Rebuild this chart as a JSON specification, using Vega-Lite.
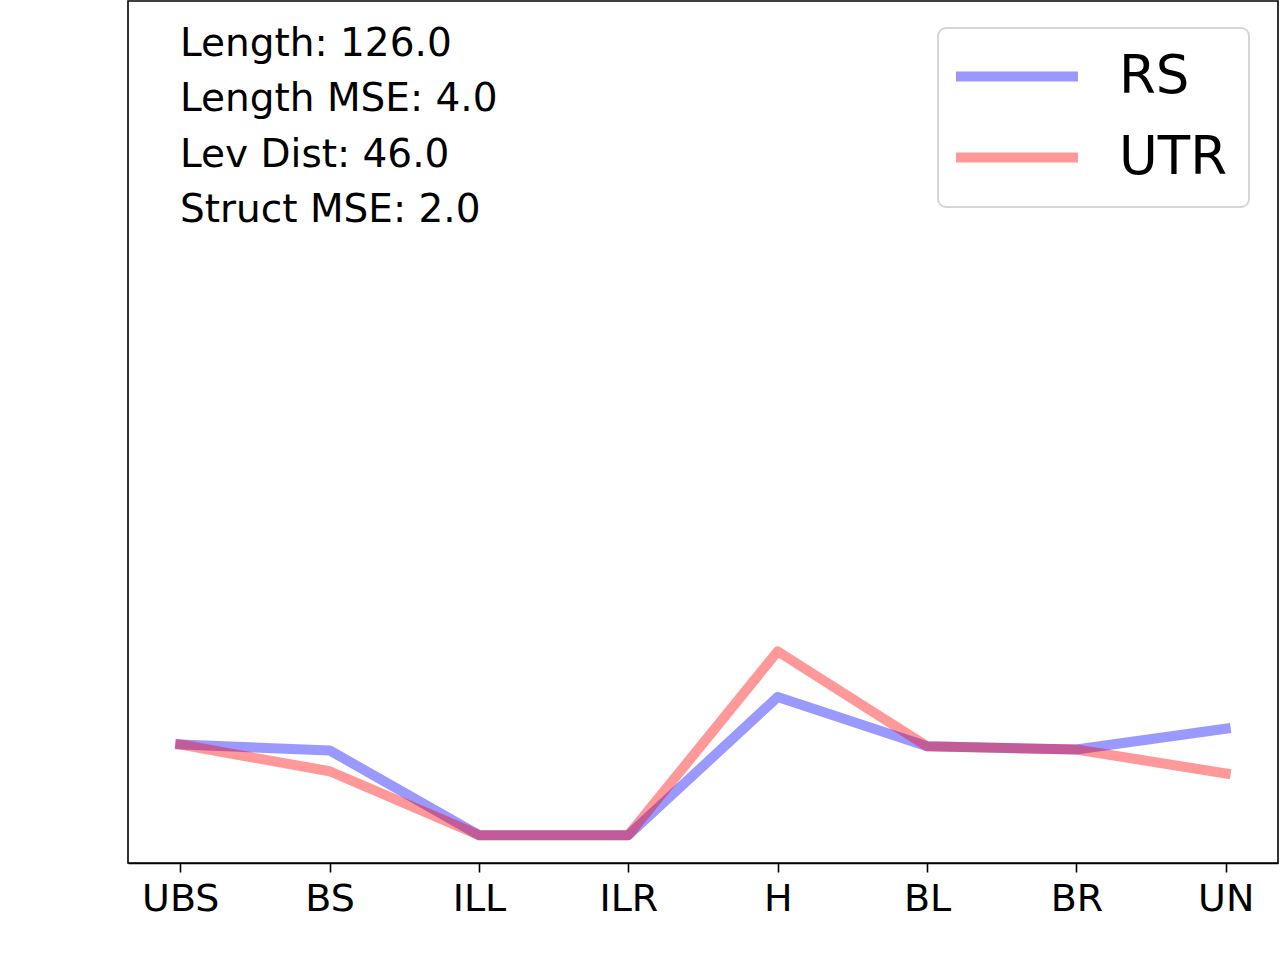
{
  "$schema": "https://vega.github.io/schema/vega-lite/v6.json",
  "width": 1150,
  "height": 862,
  "autosize": {"type": "none"},
  "padding": {"left": 128, "top": 1, "right": 2, "bottom": 97},
  "background": "white",
  "config": {
    "view": {"stroke": "black", "strokeWidth": 1.6},
    "font": "DejaVu Sans",
    "legend": {"strokeWidth": 2}
  },
  "title": {
    "text": ["Length: 126.0", "Length MSE: 4.0", "Lev Dist: 46.0", "Struct MSE: 2.0"],
    "orient": "top",
    "anchor": "start",
    "frame": "group",
    "baseline": "top",
    "offset": 0,
    "dx": 52,
    "dy": 229,
    "fontSize": 39,
    "lineHeight": 55.5,
    "fontWeight": "normal",
    "font": "DejaVu Sans",
    "color": "black"
  },
  "data": {
    "values": [
      {"series": "RS", "cat": "UBS", "v": 3.26},
      {"series": "RS", "cat": "BS", "v": 3.05},
      {"series": "RS", "cat": "ILL", "v": 0},
      {"series": "RS", "cat": "ILR", "v": 0},
      {"series": "RS", "cat": "H", "v": 4.97},
      {"series": "RS", "cat": "BL", "v": 3.2},
      {"series": "RS", "cat": "BR", "v": 3.08},
      {"series": "RS", "cat": "UN", "v": 3.83},
      {"series": "UTR", "cat": "UBS", "v": 3.26},
      {"series": "UTR", "cat": "BS", "v": 2.3},
      {"series": "UTR", "cat": "ILL", "v": 0},
      {"series": "UTR", "cat": "ILR", "v": 0},
      {"series": "UTR", "cat": "H", "v": 6.61},
      {"series": "UTR", "cat": "BL", "v": 3.2},
      {"series": "UTR", "cat": "BR", "v": 3.08},
      {"series": "UTR", "cat": "UN", "v": 2.22}
    ]
  },
  "mark": {"type": "line", "strokeWidth": 10, "opacity": 0.4, "strokeCap": "square", "strokeJoin": "round"},
  "encoding": {
    "x": {
      "field": "cat",
      "type": "ordinal",
      "sort": ["UBS", "BS", "ILL", "ILR", "H", "BL", "BR", "UN"],
      "scale": {"type": "point", "padding": 0.35},
      "axis": {
        "title": null,
        "labelAngle": 0,
        "labelFontSize": 38,
        "labelFont": "DejaVu Sans",
        "labelColor": "black",
        "labelPadding": 8,
        "tickSize": 9,
        "tickWidth": 1.6,
        "tickColor": "black",
        "domainColor": "black",
        "domainWidth": 1.6,
        "grid": false
      }
    },
    "y": {
      "field": "v",
      "type": "quantitative",
      "scale": {"domain": [-1, 30], "nice": false, "zero": false},
      "axis": null
    },
    "color": {
      "field": "series",
      "type": "nominal",
      "scale": {"domain": ["RS", "UTR"], "range": ["blue", "red"]},
      "legend": {
        "title": null,
        "orient": "none",
        "legendX": 810,
        "legendY": 27,
        "direction": "vertical",
        "symbolType": "M-1.5,0H4.5",
        "symbolSize": 1653,
        "symbolStrokeWidth": 10,
        "symbolOpacity": 0.4,
        "labelFontSize": 53,
        "labelFont": "DejaVu Sans",
        "labelColor": "black",
        "labelOffset": 106,
        "rowPadding": 27,
        "padding": 22,
        "fillColor": "white",
        "strokeColor": "#d6d6d6",
        "cornerRadius": 8
      }
    }
  }
}
